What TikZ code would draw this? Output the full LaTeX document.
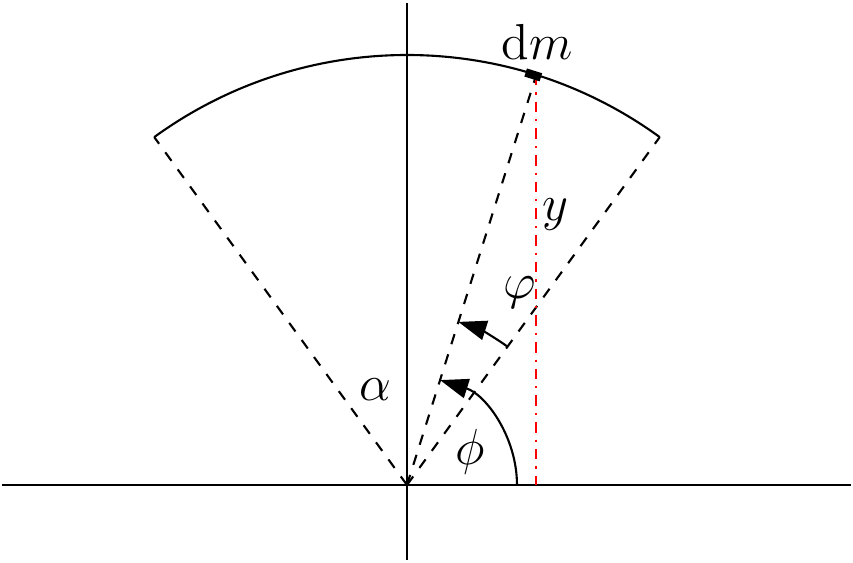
\documentclass[tikz,border=0pt]{standalone}
\usetikzlibrary{arrows.meta}
\begin{document}
\begin{tikzpicture}[x=1cm,y=1cm,
  base/.style={line width=0.6pt},
  ray/.style={base,dashed},
  angarrow/.style={base,-{Triangle[length=8pt,width=5.6pt]}},
  redline/.style={base,red,dashdotted},
  lbl/.style={font=\Large}]
\useasboundingbox (-4.07,-0.78) rectangle (4.46,4.85);
\def\R{4.3}
\coordinate (O) at (0,0);
\coordinate (xl) at (-4.05,0);
\coordinate (xr) at (4.44,0);
\coordinate (yb) at (0,-0.75);
\coordinate (yt) at (0,4.82);
\coordinate (A) at (54:\R);
\coordinate (B) at (126:\R);
\coordinate (M) at (72.5:\R);
\coordinate (Mf) at (M |- O);
\draw[base] (xl) -- (xr);
\draw[base] (yb) -- (yt);
\draw[base] (A) arc[start angle=54,end angle=126,radius=\R];
\draw[ray] (O) -- (A);
\draw[ray] (O) -- (B);
\draw[ray] (O) -- (M);
\draw[redline] (M) -- (Mf);
\node[fill=black,minimum width=0.16cm,minimum height=0.085cm,inner sep=0pt,rotate=-17.5] (dmbox) at ([xshift=-0.03cm]M) {};
\draw[angarrow] (1.1,0) arc[start angle=0,end angle=72.5,radius=1.1];
\draw[angarrow] (54:1.71) arc[start angle=54,end angle=72.5,radius=1.71];
\node[lbl] (alpha) at (-0.32,0.95) {$\alpha$};
\node[lbl] (phi) at (0.63,0.33) {$\phi$};
\node[lbl] (vphi) at (1.13,1.92) {$\varphi$};
\node[lbl] (ylab) at (1.48,2.70) {$y$};
\node[lbl] (dm) at (1.30,4.43) {$\mathrm{d}m$};
\end{tikzpicture}
\end{document}
